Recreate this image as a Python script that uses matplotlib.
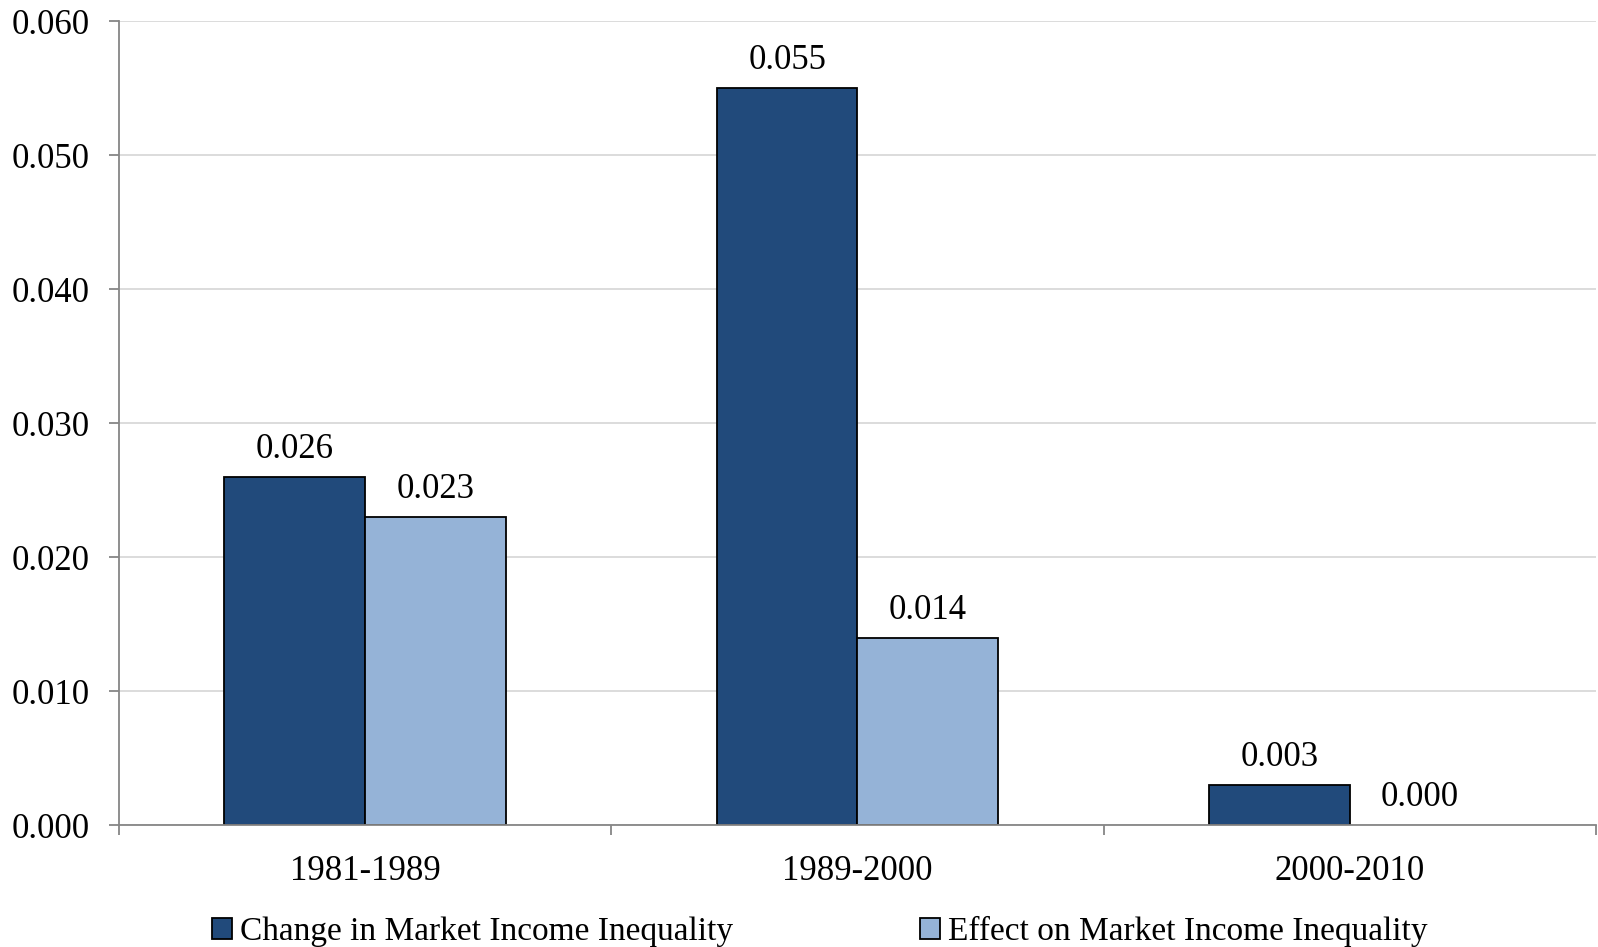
import matplotlib
matplotlib.use("Agg")
import matplotlib.pyplot as plt
import numpy as np

categories = ["1981-1989", "1989-2000", "2000-2010"]
change_vals = [0.026, 0.055, 0.003]
effect_vals = [0.023, 0.014, 0.000]
series_names = ["Change in Market Income Inequality", "Effect on Market Income Inequality"]
yticks = [0.0, 0.01, 0.02, 0.03, 0.04, 0.05, 0.06]

plt.rcParams['font.family'] = ['Liberation Serif', 'DejaVu Serif']

fig = plt.figure(figsize=(15.98, 9.47), dpi=100)
ax = fig.add_axes([0.0745, 0.1283, 0.9242, 0.8491])

x = np.arange(len(categories))
w = 0.286
dark = "#214A7B"
light = "#95B3D7"
b1 = ax.bar(x - w/2, change_vals, w, color=dark, edgecolor="black", linewidth=1.3, label=series_names[0], zorder=3)
b2 = ax.bar(x + w/2, effect_vals, w, color=light, edgecolor="black", linewidth=1.3, label=series_names[1], zorder=3)
for bars in (b1, b2):
    for r in bars:
        if r.get_height() == 0:
            r.set_linewidth(0)

fs = 25
for bars, vals in ((b1, change_vals), (b2, effect_vals)):
    for r, v in zip(bars, vals):
        ax.annotate(f"{v:.3f}", (r.get_x() + r.get_width()/2, v), xytext=(0, 8),
                    textcoords="offset points", ha="center", va="bottom", fontsize=fs)

ax.set_xlim(-0.5, 2.5)
ax.set_ylim(0, 0.06)
ax.set_yticks(yticks)
ax.set_yticklabels([f"{t:.3f}" for t in yticks], fontsize=fs)
ax.set_xticks(x)
ax.set_xticklabels(categories, fontsize=fs)
ax.set_xticks([-0.5, 0.5, 1.5, 2.5], minor=True)
ax.tick_params(axis='x', which='major', length=0, pad=21)
ax.tick_params(axis='x', which='minor', length=7, color="#868686", width=1.3)
ax.tick_params(axis='y', length=7, color="#868686", width=1.3, pad=14)
ax.yaxis.grid(True, color="#d9d9d9", linewidth=1.3, zorder=0)
ax.set_axisbelow(True)
for s in ["top", "right"]:
    ax.spines[s].set_visible(False)
for s in ["left", "bottom"]:
    ax.spines[s].set_color("#868686")
    ax.spines[s].set_linewidth(1.3)
    ax.spines[s].set_zorder(4)

leg = fig.legend(handles=[b1, b2], loc="center", bbox_to_anchor=(0.513, 0.016), ncol=2,
                 frameon=False, fontsize=24, handlelength=0.6, handleheight=0.6,
                 handletextpad=0.25, columnspacing=5.6)

fig.savefig("out.png", dpi=100)
